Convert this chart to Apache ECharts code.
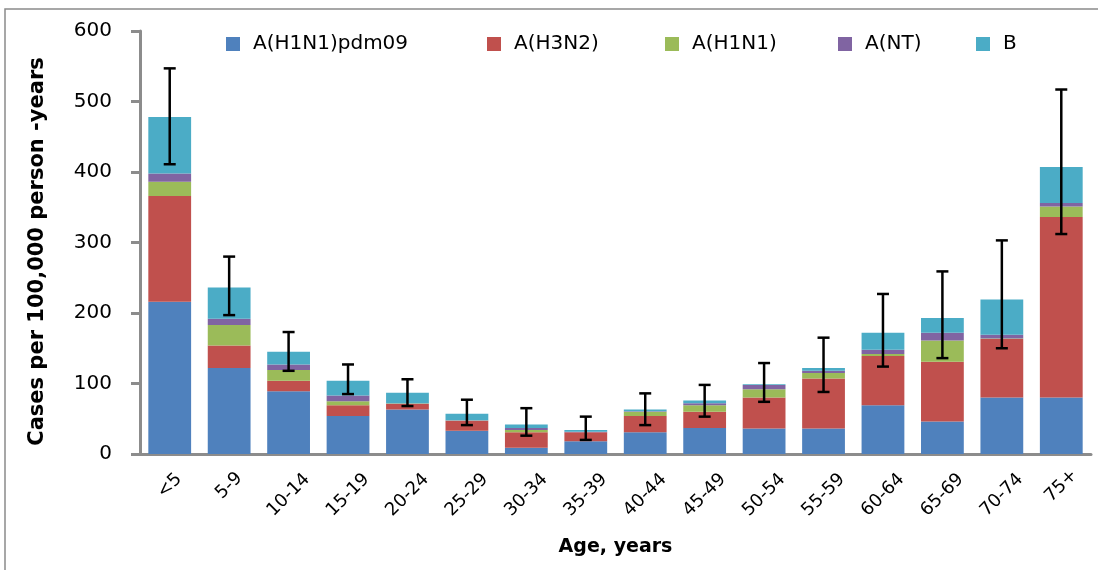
<!DOCTYPE html>
<html>
<head>
<meta charset="utf-8">
<script src="https://cdn.jsdelivr.net/npm/echarts@6/dist/echarts.min.js"></script>
<style>
html,body{margin:0;padding:0;background:#fff;}
#chart{width:1098px;height:570px;}
</style>
</head>
<body>
<div id="chart"></div>
<script>
const categories = ['<5','5-9','10-14','15-19','20-24','25-29','30-34','35-39','40-44','45-49','50-54','55-59','60-64','65-69','70-74','75+'];
const seriesNames = ['A(H1N1)pdm09','A(H3N2)','A(H1N1)','A(NT)','B'];
const pdm09 = [216,122,89,54,63,33,9,18,31,37,36,36,69,46,80,80];
const h3n2  = [150,32,15,15,8,14,22,13,23,23,44,71,70,85,83,256];
const h1n1  = [20,29,15,6,0.5,0.5,3,0,6,9,12,8,3,30,1,15];
const nt    = [12,9,8,8,0.5,0.5,3,0.5,0.5,3,6,3,6,11,5,5];
const fluB  = [80,44,18,21,15,9,5,2.5,2.5,4,1,4,24,21,50,51];
const ciLower = [411,197,118,85,68,41,26,20,41,53,74,88,124,136,150,312];
const ciUpper = [547,280,173,127,106,77,65,53,86,98,129,165,227,259,303,517];
const yTicks = [0,100,200,300,400,500,600];

const colors = ['#4F81BD','#C0504D','#9BBB59','#8064A2','#4BACC6'];
const values = [pdm09,h3n2,h1n1,nt,fluB];
const FONT = 'DejaVu Sans';

const chart = echarts.init(document.getElementById('chart'), null, {renderer:'canvas'});

const barSeries = seriesNames.map((n,i)=>({
  name:n, type:'bar', stack:'total', data:values[i], barWidth:'72%',
  itemStyle:{color:colors[i]}, emphasis:{disabled:true}
}));

const errData = categories.map((c,i)=>[i, ciLower[i], ciUpper[i]]);

const legendLeft = [221,482,660,833,971];
const legends = seriesNames.map((n,i)=>({
  data:[n], left:legendLeft[i], top:29, itemWidth:14, itemHeight:14,
  icon:'rect', selectedMode:false,
  textStyle:{fontFamily:FONT, fontSize:20, color:'#000', padding:[0,0,0,8]}
}));

const lblStyle = {fontFamily:FONT, fontSize:18, color:'#000'};

chart.setOption({
  animation:false,
  color:colors,
  legend:legends,
  graphic:[{type:'rect', shape:{x:5,y:9,width:1200,height:700}, style:{fill:'none', stroke:'#8a8a8a', lineWidth:1.5}, silent:true, z:-10}],
  grid:{left:140, right:7, top:31, bottom:116},
  xAxis:{
    type:'category', data:categories,
    name:'Age, years', nameLocation:'middle', nameGap:84,
    nameTextStyle:{fontFamily:FONT, fontSize:19, fontWeight:'bold', color:'#000'},
    axisLine:{lineStyle:{color:'#8c8c8c', width:3}},
    axisTick:{length:8, lineStyle:{color:'#8c8c8c', width:3}},
    axisLabel:{rotate:45, align:'center', verticalAlign:'middle', margin:41, interval:0,
      fontFamily:FONT, fontSize:18, color:'#000',
      formatter:(v)=> v.length<=3 ? '{s|'+v+'}' : v,
      rich:{s:Object.assign({padding:[0,0,13,13]}, lblStyle)}
    }
  },
  yAxis:{
    type:'value', min:0, max:600, interval:100,
    name:'Cases per 100,000 person -years', nameLocation:'middle', nameGap:92, nameRotate:90,
    nameTextStyle:{fontFamily:FONT, fontSize:21, fontWeight:'bold', color:'#000', padding:[0,18,0,0]},
    axisLine:{show:true, lineStyle:{color:'#8c8c8c', width:3}},
    axisTick:{show:true, length:9, lineStyle:{color:'#8c8c8c', width:3}},
    splitLine:{show:false},
    axisLabel:{margin:28, fontFamily:FONT, fontSize:20, color:'#000',
      formatter:(v)=> yTicks.indexOf(v)>=0 ? String(v) : ''}
  },
  series: barSeries.concat([{
    type:'custom', name:'CI', data:errData, z:10, silent:true,
    encode:{x:0, y:[1,2]},
    renderItem:(params, api)=>{
      const idx = api.value(0);
      const lo = api.coord([idx, api.value(1)]);
      const hi = api.coord([idx, api.value(2)]);
      const hw = 6;
      const st = {stroke:'#000', lineWidth:2.5};
      return {type:'group', children:[
        {type:'line', shape:{x1:lo[0],y1:lo[1],x2:hi[0],y2:hi[1]}, style:st},
        {type:'line', shape:{x1:lo[0]-hw,y1:lo[1],x2:lo[0]+hw,y2:lo[1]}, style:st},
        {type:'line', shape:{x1:hi[0]-hw,y1:hi[1],x2:hi[0]+hw,y2:hi[1]}, style:st}
      ]};
    }
  }])
});
</script>
</body>
</html>
